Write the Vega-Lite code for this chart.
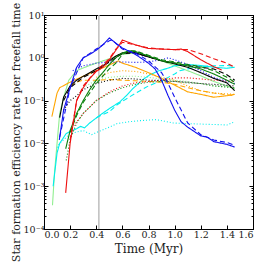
{
"$schema": "https://vega.github.io/schema/vega-lite/v6.json",
"width": 209, "height": 214,
"autosize": "none",
"padding": {"left": 44, "top": 15, "right": 13, "bottom": 35},
"config": {
  "view": {"stroke": "black", "strokeWidth": 1},
  "font": "DejaVu Serif",
  "axis": {"domainColor": "black", "tickColor": "black", "labelColor": "#222", "titleColor": "#222", "labelFont": "DejaVu Serif", "titleFont": "DejaVu Serif", "labelFontSize": 9.5, "titleFontSize": 11, "titleFontWeight": "normal", "grid": false}
},
"datasets": {
  "marker": [{"t": 0.42}],
  "runs": [
    {"c":"lightgreen","s":"solid","t":0.065,"v":0.00036},{"c":"lightgreen","s":"solid","t":0.08,"v":0.002},{"c":"lightgreen","s":"solid","t":0.1,"v":0.01},{"c":"lightgreen","s":"solid","t":0.12,"v":0.05},{"c":"lightgreen","s":"solid","t":0.15,"v":0.12},{"c":"lightgreen","s":"solid","t":0.19,"v":0.3},{"c":"lightgreen","s":"solid","t":0.25,"v":0.5},{"c":"lightgreen","s":"solid","t":0.3,"v":0.58},{"c":"lightgreen","s":"solid","t":0.4,"v":0.75},{"c":"lightgreen","s":"solid","t":0.5,"v":0.95},{"c":"lightgreen","s":"solid","t":0.6,"v":1.2},{"c":"lightgreen","s":"solid","t":0.7,"v":1.3},{"c":"lightgreen","s":"solid","t":0.8,"v":1.1},{"c":"lightgreen","s":"solid","t":0.9,"v":0.85},{"c":"lightgreen","s":"solid","t":1.0,"v":0.65},{"c":"lightgreen","s":"solid","t":1.1,"v":0.5},{"c":"lightgreen","s":"solid","t":1.2,"v":0.38},{"c":"lightgreen","s":"solid","t":1.3,"v":0.28},{"c":"lightgreen","s":"solid","t":1.4,"v":0.22},{"c":"lightgreen","s":"solid","t":1.46,"v":0.19},
    {"c":"lightgreen","s":"dotted","t":0.3,"v":0.2},{"c":"lightgreen","s":"dotted","t":0.4,"v":0.3},{"c":"lightgreen","s":"dotted","t":0.5,"v":0.35},{"c":"lightgreen","s":"dotted","t":0.6,"v":0.37},{"c":"lightgreen","s":"dotted","t":0.7,"v":0.37},{"c":"lightgreen","s":"dotted","t":0.8,"v":0.35},{"c":"lightgreen","s":"dotted","t":0.9,"v":0.32},{"c":"lightgreen","s":"dotted","t":1.0,"v":0.3},{"c":"lightgreen","s":"dotted","t":1.1,"v":0.28},{"c":"lightgreen","s":"dotted","t":1.2,"v":0.25},{"c":"lightgreen","s":"dotted","t":1.3,"v":0.22},{"c":"lightgreen","s":"dotted","t":1.46,"v":0.2},
    {"c":"cyan","s":"dotted","t":0.1,"v":0.008},{"c":"cyan","s":"dotted","t":0.12,"v":0.01},{"c":"cyan","s":"dotted","t":0.2,"v":0.017},{"c":"cyan","s":"dotted","t":0.3,"v":0.02},{"c":"cyan","s":"dotted","t":0.365,"v":0.016},{"c":"cyan","s":"dotted","t":0.42,"v":0.019},{"c":"cyan","s":"dotted","t":0.5,"v":0.024},{"c":"cyan","s":"dotted","t":0.56,"v":0.029},{"c":"cyan","s":"dotted","t":0.65,"v":0.032},{"c":"cyan","s":"dotted","t":0.735,"v":0.034},{"c":"cyan","s":"dotted","t":0.86,"v":0.036},{"c":"cyan","s":"dotted","t":0.99,"v":0.03},{"c":"cyan","s":"dotted","t":1.1,"v":0.029},{"c":"cyan","s":"dotted","t":1.24,"v":0.028},{"c":"cyan","s":"dotted","t":1.4,"v":0.027},{"c":"cyan","s":"dotted","t":1.46,"v":0.032},
    {"c":"cyan","s":"solid","t":0.07,"v":0.001},{"c":"cyan","s":"solid","t":0.1,"v":0.006},{"c":"cyan","s":"solid","t":0.12,"v":0.01},{"c":"cyan","s":"solid","t":0.17,"v":0.017},{"c":"cyan","s":"solid","t":0.2,"v":0.019},{"c":"cyan","s":"solid","t":0.25,"v":0.022},{"c":"cyan","s":"solid","t":0.28,"v":0.025},{"c":"cyan","s":"solid","t":0.31,"v":0.023},{"c":"cyan","s":"solid","t":0.35,"v":0.03},{"c":"cyan","s":"solid","t":0.43,"v":0.046},{"c":"cyan","s":"solid","t":0.5,"v":0.065},{"c":"cyan","s":"solid","t":0.58,"v":0.093},{"c":"cyan","s":"solid","t":0.63,"v":0.13},{"c":"cyan","s":"solid","t":0.68,"v":0.19},{"c":"cyan","s":"solid","t":0.75,"v":0.3},{"c":"cyan","s":"solid","t":0.81,"v":0.4},{"c":"cyan","s":"solid","t":0.88,"v":0.5},{"c":"cyan","s":"solid","t":0.94,"v":0.56},{"c":"cyan","s":"solid","t":1.0,"v":0.65},{"c":"cyan","s":"solid","t":1.1,"v":0.7},{"c":"cyan","s":"solid","t":1.2,"v":0.66},{"c":"cyan","s":"solid","t":1.3,"v":0.6},{"c":"cyan","s":"solid","t":1.4,"v":0.57},{"c":"cyan","s":"solid","t":1.46,"v":0.6},
    {"c":"cyan","s":"dashed","t":0.4,"v":0.04},{"c":"cyan","s":"dashed","t":0.5,"v":0.055},{"c":"cyan","s":"dashed","t":0.56,"v":0.08},{"c":"cyan","s":"dashed","t":0.65,"v":0.12},{"c":"cyan","s":"dashed","t":0.735,"v":0.17},{"c":"cyan","s":"dashed","t":0.8,"v":0.22},{"c":"cyan","s":"dashed","t":0.91,"v":0.3},{"c":"cyan","s":"dashed","t":1.0,"v":0.42},{"c":"cyan","s":"dashed","t":1.04,"v":0.5},{"c":"cyan","s":"dashed","t":1.1,"v":0.55},{"c":"cyan","s":"dashed","t":1.19,"v":0.62},{"c":"cyan","s":"dashed","t":1.3,"v":0.65},{"c":"cyan","s":"dashed","t":1.4,"v":0.66},{"c":"cyan","s":"dashed","t":1.46,"v":0.64},
    {"c":"orange","s":"dotted","t":0.4,"v":0.35},{"c":"orange","s":"dotted","t":0.5,"v":0.45},{"c":"orange","s":"dotted","t":0.6,"v":0.5},{"c":"orange","s":"dotted","t":0.7,"v":0.48},{"c":"orange","s":"dotted","t":0.8,"v":0.42},{"c":"orange","s":"dotted","t":0.9,"v":0.35},{"c":"orange","s":"dotted","t":1.0,"v":0.3},{"c":"orange","s":"dotted","t":1.1,"v":0.22},{"c":"orange","s":"dotted","t":1.2,"v":0.17},{"c":"orange","s":"dotted","t":1.3,"v":0.15},{"c":"orange","s":"dotted","t":1.46,"v":0.14},
    {"c":"orange","s":"dashed","t":0.2,"v":0.22},{"c":"orange","s":"dashed","t":0.25,"v":0.27},{"c":"orange","s":"dashed","t":0.3,"v":0.3},{"c":"orange","s":"dashed","t":0.4,"v":0.3},{"c":"orange","s":"dashed","t":0.5,"v":0.31},{"c":"orange","s":"dashed","t":0.6,"v":0.3},{"c":"orange","s":"dashed","t":0.7,"v":0.29},{"c":"orange","s":"dashed","t":0.8,"v":0.28},{"c":"orange","s":"dashed","t":0.9,"v":0.27},{"c":"orange","s":"dashed","t":1.0,"v":0.24},{"c":"orange","s":"dashed","t":1.1,"v":0.2},{"c":"orange","s":"dashed","t":1.2,"v":0.17},{"c":"orange","s":"dashed","t":1.3,"v":0.15},{"c":"orange","s":"dashed","t":1.46,"v":0.13},
    {"c":"orange","s":"solid","t":0.06,"v":0.042},{"c":"orange","s":"solid","t":0.1,"v":0.15},{"c":"orange","s":"solid","t":0.12,"v":0.2},{"c":"orange","s":"solid","t":0.2,"v":0.27},{"c":"orange","s":"solid","t":0.3,"v":0.37},{"c":"orange","s":"solid","t":0.4,"v":0.5},{"c":"orange","s":"solid","t":0.5,"v":0.68},{"c":"orange","s":"solid","t":0.57,"v":0.85},{"c":"orange","s":"solid","t":0.6,"v":0.75},{"c":"orange","s":"solid","t":0.7,"v":0.6},{"c":"orange","s":"solid","t":0.8,"v":0.45},{"c":"orange","s":"solid","t":0.9,"v":0.33},{"c":"orange","s":"solid","t":1.0,"v":0.23},{"c":"orange","s":"solid","t":1.1,"v":0.16},{"c":"orange","s":"solid","t":1.2,"v":0.14},{"c":"orange","s":"solid","t":1.3,"v":0.12},{"c":"orange","s":"solid","t":1.4,"v":0.13},{"c":"orange","s":"solid","t":1.46,"v":0.14},
    {"c":"red","s":"dotted","t":0.2,"v":0.02},{"c":"red","s":"dotted","t":0.3,"v":0.05},{"c":"red","s":"dotted","t":0.4,"v":0.1},{"c":"red","s":"dotted","t":0.5,"v":0.16},{"c":"red","s":"dotted","t":0.6,"v":0.22},{"c":"red","s":"dotted","t":0.7,"v":0.26},{"c":"red","s":"dotted","t":0.8,"v":0.28},{"c":"red","s":"dotted","t":0.9,"v":0.3},{"c":"red","s":"dotted","t":1.0,"v":0.34},{"c":"red","s":"dotted","t":1.1,"v":0.34},{"c":"red","s":"dotted","t":1.2,"v":0.32},{"c":"red","s":"dotted","t":1.3,"v":0.3},{"c":"red","s":"dotted","t":1.46,"v":0.28},
    {"c":"green","s":"dotted","t":0.17,"v":0.004},{"c":"green","s":"dotted","t":0.2,"v":0.012},{"c":"green","s":"dotted","t":0.25,"v":0.03},{"c":"green","s":"dotted","t":0.3,"v":0.05},{"c":"green","s":"dotted","t":0.4,"v":0.1},{"c":"green","s":"dotted","t":0.5,"v":0.15},{"c":"green","s":"dotted","t":0.6,"v":0.2},{"c":"green","s":"dotted","t":0.7,"v":0.24},{"c":"green","s":"dotted","t":0.8,"v":0.27},{"c":"green","s":"dotted","t":0.9,"v":0.28},{"c":"green","s":"dotted","t":1.0,"v":0.28},{"c":"green","s":"dotted","t":1.1,"v":0.26},{"c":"green","s":"dotted","t":1.2,"v":0.25},{"c":"green","s":"dotted","t":1.3,"v":0.22},{"c":"green","s":"dotted","t":1.46,"v":0.2},
    {"c":"black","s":"dotted","t":0.15,"v":0.06},{"c":"black","s":"dotted","t":0.2,"v":0.1},{"c":"black","s":"dotted","t":0.25,"v":0.13},{"c":"black","s":"dotted","t":0.3,"v":0.18},{"c":"black","s":"dotted","t":0.4,"v":0.25},{"c":"black","s":"dotted","t":0.5,"v":0.3},{"c":"black","s":"dotted","t":0.6,"v":0.33},{"c":"black","s":"dotted","t":0.7,"v":0.32},{"c":"black","s":"dotted","t":0.8,"v":0.3},{"c":"black","s":"dotted","t":0.9,"v":0.3},{"c":"black","s":"dotted","t":1.0,"v":0.28},{"c":"black","s":"dotted","t":1.1,"v":0.27},{"c":"black","s":"dotted","t":1.2,"v":0.25},{"c":"black","s":"dotted","t":1.3,"v":0.24},{"c":"black","s":"dotted","t":1.46,"v":0.22},
    {"c":"blue","s":"dotted","t":0.22,"v":0.5},{"c":"blue","s":"dotted","t":0.3,"v":0.65},{"c":"blue","s":"dotted","t":0.4,"v":0.75},{"c":"blue","s":"dotted","t":0.5,"v":0.8},{"c":"blue","s":"dotted","t":0.6,"v":0.8},{"c":"blue","s":"dotted","t":0.7,"v":0.78},{"c":"blue","s":"dotted","t":0.8,"v":0.8},{"c":"blue","s":"dotted","t":0.9,"v":0.9},{"c":"blue","s":"dotted","t":0.95,"v":1.0},{"c":"blue","s":"dotted","t":1.0,"v":0.9},{"c":"blue","s":"dotted","t":1.1,"v":0.7},{"c":"blue","s":"dotted","t":1.2,"v":0.5},{"c":"blue","s":"dotted","t":1.3,"v":0.35},{"c":"blue","s":"dotted","t":1.46,"v":0.25},
    {"c":"black","s":"dashed","t":0.15,"v":0.1},{"c":"black","s":"dashed","t":0.2,"v":0.2},{"c":"black","s":"dashed","t":0.3,"v":0.35},{"c":"black","s":"dashed","t":0.4,"v":0.5},{"c":"black","s":"dashed","t":0.5,"v":0.8},{"c":"black","s":"dashed","t":0.6,"v":1.25},{"c":"black","s":"dashed","t":0.7,"v":1.3},{"c":"black","s":"dashed","t":0.8,"v":1.05},{"c":"black","s":"dashed","t":0.9,"v":0.85},{"c":"black","s":"dashed","t":1.0,"v":0.75},{"c":"black","s":"dashed","t":1.1,"v":0.65},{"c":"black","s":"dashed","t":1.2,"v":0.6},{"c":"black","s":"dashed","t":1.3,"v":0.55},{"c":"black","s":"dashed","t":1.4,"v":0.4},{"c":"black","s":"dashed","t":1.46,"v":0.3},
    {"c":"black","s":"solid","t":0.12,"v":0.04},{"c":"black","s":"solid","t":0.15,"v":0.12},{"c":"black","s":"solid","t":0.2,"v":0.22},{"c":"black","s":"solid","t":0.25,"v":0.3},{"c":"black","s":"solid","t":0.3,"v":0.37},{"c":"black","s":"solid","t":0.35,"v":0.45},{"c":"black","s":"solid","t":0.4,"v":0.55},{"c":"black","s":"solid","t":0.45,"v":0.65},{"c":"black","s":"solid","t":0.5,"v":0.85},{"c":"black","s":"solid","t":0.55,"v":1.1},{"c":"black","s":"solid","t":0.6,"v":1.3},{"c":"black","s":"solid","t":0.65,"v":1.35},{"c":"black","s":"solid","t":0.7,"v":1.3},{"c":"black","s":"solid","t":0.8,"v":1.05},{"c":"black","s":"solid","t":0.9,"v":0.85},{"c":"black","s":"solid","t":1.0,"v":0.72},{"c":"black","s":"solid","t":1.1,"v":0.6},{"c":"black","s":"solid","t":1.2,"v":0.45},{"c":"black","s":"solid","t":1.3,"v":0.33},{"c":"black","s":"solid","t":1.4,"v":0.26},{"c":"black","s":"solid","t":1.46,"v":0.17},
    {"c":"green","s":"dashed","t":0.2,"v":0.018},{"c":"green","s":"dashed","t":0.25,"v":0.045},{"c":"green","s":"dashed","t":0.3,"v":0.09},{"c":"green","s":"dashed","t":0.4,"v":0.25},{"c":"green","s":"dashed","t":0.5,"v":0.55},{"c":"green","s":"dashed","t":0.55,"v":0.75},{"c":"green","s":"dashed","t":0.6,"v":1.2},{"c":"green","s":"dashed","t":0.65,"v":1.45},{"c":"green","s":"dashed","t":0.7,"v":1.45},{"c":"green","s":"dashed","t":0.8,"v":1.15},{"c":"green","s":"dashed","t":0.9,"v":0.9},{"c":"green","s":"dashed","t":1.0,"v":0.8},{"c":"green","s":"dashed","t":1.1,"v":0.7},{"c":"green","s":"dashed","t":1.2,"v":0.62},{"c":"green","s":"dashed","t":1.3,"v":0.5},{"c":"green","s":"dashed","t":1.4,"v":0.35},{"c":"green","s":"dashed","t":1.46,"v":0.27},
    {"c":"green","s":"solid","t":0.166,"v":0.0075},{"c":"green","s":"solid","t":0.2,"v":0.02},{"c":"green","s":"solid","t":0.25,"v":0.05},{"c":"green","s":"solid","t":0.3,"v":0.1},{"c":"green","s":"solid","t":0.35,"v":0.18},{"c":"green","s":"solid","t":0.4,"v":0.3},{"c":"green","s":"solid","t":0.45,"v":0.45},{"c":"green","s":"solid","t":0.5,"v":0.7},{"c":"green","s":"solid","t":0.55,"v":1.0},{"c":"green","s":"solid","t":0.6,"v":1.3},{"c":"green","s":"solid","t":0.65,"v":1.45},{"c":"green","s":"solid","t":0.7,"v":1.4},{"c":"green","s":"solid","t":0.8,"v":1.1},{"c":"green","s":"solid","t":0.9,"v":0.85},{"c":"green","s":"solid","t":1.0,"v":0.75},{"c":"green","s":"solid","t":1.1,"v":0.65},{"c":"green","s":"solid","t":1.2,"v":0.55},{"c":"green","s":"solid","t":1.3,"v":0.42},{"c":"green","s":"solid","t":1.4,"v":0.3},{"c":"green","s":"solid","t":1.46,"v":0.24},
    {"c":"red","s":"dashed","t":0.2,"v":0.012},{"c":"red","s":"dashed","t":0.25,"v":0.1},{"c":"red","s":"dashed","t":0.3,"v":0.22},{"c":"red","s":"dashed","t":0.4,"v":0.5},{"c":"red","s":"dashed","t":0.5,"v":0.95},{"c":"red","s":"dashed","t":0.55,"v":1.6},{"c":"red","s":"dashed","t":0.6,"v":2.3},{"c":"red","s":"dashed","t":0.7,"v":2.0},{"c":"red","s":"dashed","t":0.8,"v":1.7},{"c":"red","s":"dashed","t":0.9,"v":1.6},{"c":"red","s":"dashed","t":1.0,"v":1.55},{"c":"red","s":"dashed","t":1.1,"v":1.55},{"c":"red","s":"dashed","t":1.2,"v":1.25},{"c":"red","s":"dashed","t":1.3,"v":0.95},{"c":"red","s":"dashed","t":1.4,"v":0.75},{"c":"red","s":"dashed","t":1.46,"v":0.6},
    {"c":"red","s":"solid","t":0.166,"v":0.0007},{"c":"red","s":"solid","t":0.2,"v":0.01},{"c":"red","s":"solid","t":0.25,"v":0.1},{"c":"red","s":"solid","t":0.3,"v":0.2},{"c":"red","s":"solid","t":0.35,"v":0.33},{"c":"red","s":"solid","t":0.4,"v":0.48},{"c":"red","s":"solid","t":0.45,"v":0.6},{"c":"red","s":"solid","t":0.5,"v":0.9},{"c":"red","s":"solid","t":0.55,"v":1.5},{"c":"red","s":"solid","t":0.6,"v":2.6},{"c":"red","s":"solid","t":0.7,"v":2.0},{"c":"red","s":"solid","t":0.8,"v":1.65},{"c":"red","s":"solid","t":0.9,"v":1.6},{"c":"red","s":"solid","t":1.0,"v":1.55},{"c":"red","s":"solid","t":1.05,"v":1.6},{"c":"red","s":"solid","t":1.1,"v":1.4},{"c":"red","s":"solid","t":1.2,"v":0.9},{"c":"red","s":"solid","t":1.3,"v":0.62},{"c":"red","s":"solid","t":1.36,"v":0.52},
    {"c":"blue","s":"dashed","t":0.12,"v":0.014},{"c":"blue","s":"dashed","t":0.2,"v":0.2},{"c":"blue","s":"dashed","t":0.3,"v":1.0},{"c":"blue","s":"dashed","t":0.4,"v":1.6},{"c":"blue","s":"dashed","t":0.5,"v":2.5},{"c":"blue","s":"dashed","t":0.52,"v":2.6},{"c":"blue","s":"dashed","t":0.6,"v":1.6},{"c":"blue","s":"dashed","t":0.7,"v":1.3},{"c":"blue","s":"dashed","t":0.8,"v":0.85},{"c":"blue","s":"dashed","t":0.9,"v":0.45},{"c":"blue","s":"dashed","t":0.95,"v":0.25},{"c":"blue","s":"dashed","t":1.0,"v":0.12},{"c":"blue","s":"dashed","t":1.05,"v":0.06},{"c":"blue","s":"dashed","t":1.1,"v":0.03},{"c":"blue","s":"dashed","t":1.2,"v":0.016},{"c":"blue","s":"dashed","t":1.3,"v":0.012},{"c":"blue","s":"dashed","t":1.4,"v":0.0105},{"c":"blue","s":"dashed","t":1.46,"v":0.009},
    {"c":"blue","s":"solid","t":0.117,"v":0.012},{"c":"blue","s":"solid","t":0.15,"v":0.06},{"c":"blue","s":"solid","t":0.2,"v":0.2},{"c":"blue","s":"solid","t":0.25,"v":0.6},{"c":"blue","s":"solid","t":0.3,"v":1.0},{"c":"blue","s":"solid","t":0.35,"v":1.2},{"c":"blue","s":"solid","t":0.4,"v":1.5},{"c":"blue","s":"solid","t":0.45,"v":2.0},{"c":"blue","s":"solid","t":0.5,"v":2.9},{"c":"blue","s":"solid","t":0.55,"v":2.2},{"c":"blue","s":"solid","t":0.6,"v":1.7},{"c":"blue","s":"solid","t":0.7,"v":1.2},{"c":"blue","s":"solid","t":0.8,"v":0.75},{"c":"blue","s":"solid","t":0.85,"v":0.55},{"c":"blue","s":"solid","t":0.9,"v":0.3},{"c":"blue","s":"solid","t":0.95,"v":0.13},{"c":"blue","s":"solid","t":1.0,"v":0.06},{"c":"blue","s":"solid","t":1.05,"v":0.032},{"c":"blue","s":"solid","t":1.1,"v":0.024},{"c":"blue","s":"solid","t":1.2,"v":0.015},{"c":"blue","s":"solid","t":1.25,"v":0.014},{"c":"blue","s":"solid","t":1.3,"v":0.011},{"c":"blue","s":"solid","t":1.4,"v":0.0095},{"c":"blue","s":"solid","t":1.46,"v":0.0082}
  ]
},
"layer": [
  {
    "data": {"name": "marker"},
    "mark": {"type": "rule", "color": "#bdbdbd", "strokeWidth": 1.5},
    "encoding": {"x": {"field": "t", "type": "quantitative", "scale": {"domain": [0, 1.6]}, "axis": null}}
  },
  {
    "data": {"name": "runs"},
    "mark": {"type": "line", "strokeWidth": 1.1, "clip": true},
    "encoding": {
      "x": {"field": "t", "type": "quantitative", "scale": {"domain": [0, 1.6], "nice": false},
        "axis": {"orient": "bottom", "values": [0, 0.2, 0.4, 0.6, 0.8, 1.0, 1.2, 1.4, 1.6], "format": ".1f", "tickSize": -4, "labelPadding": 4, "title": "Time (Myr)", "titleFontSize": 12, "titlePadding": 5}},
      "y": {"field": "v", "type": "quantitative", "scale": {"type": "log", "domain": [0.0001, 10], "nice": false},
        "axis": {"orient": "left", "title": "Star formation efficiency rate per freefall time", "titlePadding": 2, "titleY": 117, "labelPadding": 4,
          "values": [0.0001,0.0002,0.0003,0.0004,0.0005,0.0006,0.0007,0.0008,0.0009,0.001,0.002,0.003,0.004,0.005,0.006,0.007,0.008,0.009,0.01,0.02,0.03,0.04,0.05,0.06,0.07,0.08,0.09,0.1,0.2,0.3,0.4,0.5,0.6,0.7,0.8,0.9,1,2,3,4,5,6,7,8,9,10],
          "labelExpr": "abs(log(datum.value)/LN10-round(log(datum.value)/LN10))>0.01 ? '' : (round(log(datum.value)/LN10)==1 ? '10¹' : round(log(datum.value)/LN10)==0 ? '10⁰' : round(log(datum.value)/LN10)==-1 ? '10⁻¹' : round(log(datum.value)/LN10)==-2 ? '10⁻²' : round(log(datum.value)/LN10)==-3 ? '10⁻³' : '10⁻⁴')",
          "labelOverlap": false,
          "tickSize": {"condition": {"test": "abs(log(datum.value)/LN10-round(log(datum.value)/LN10))<0.01", "value": -4}, "value": -2}}},
      "color": {"field": "c", "type": "nominal", "legend": null,
        "scale": {"domain": ["blue","red","green","black","orange","cyan","lightgreen"], "range": ["#1010ee","#ee1010","#0a800a","#000000","#ffa500","#00eeee","#90ee90"]}},
      "strokeDash": {"field": "s", "type": "nominal", "legend": null,
        "scale": {"domain": ["solid","dashed","dotted"], "range": [[1,0],[5,3],[1,2]]}},
      "opacity": {"field": "s", "type": "nominal", "legend": null,
        "scale": {"domain": ["solid","dashed","dotted"], "range": [1,1,0.55]}}
    }
  },
  {
    "data": {"name": "runs"},
    "mark": {"type": "point", "opacity": 0},
    "encoding": {
      "x": {"field": "t", "type": "quantitative", "axis": {"orient": "top", "values": [0, 0.2, 0.4, 0.6, 0.8, 1.0, 1.2, 1.4, 1.6], "labels": false, "tickSize": -4, "title": null}},
      "y": {"field": "v", "type": "quantitative",
        "axis": {"orient": "right", "labels": false, "title": null,
          "values": [0.0001,0.0002,0.0003,0.0004,0.0005,0.0006,0.0007,0.0008,0.0009,0.001,0.002,0.003,0.004,0.005,0.006,0.007,0.008,0.009,0.01,0.02,0.03,0.04,0.05,0.06,0.07,0.08,0.09,0.1,0.2,0.3,0.4,0.5,0.6,0.7,0.8,0.9,1,2,3,4,5,6,7,8,9,10],
          "tickSize": {"condition": {"test": "abs(log(datum.value)/LN10-round(log(datum.value)/LN10))<0.01", "value": -4}, "value": -2}}}
    }
  }
],
"resolve": {"scale": {"x": "shared", "y": "shared"}, "axis": {"x": "independent", "y": "independent"}}
}
